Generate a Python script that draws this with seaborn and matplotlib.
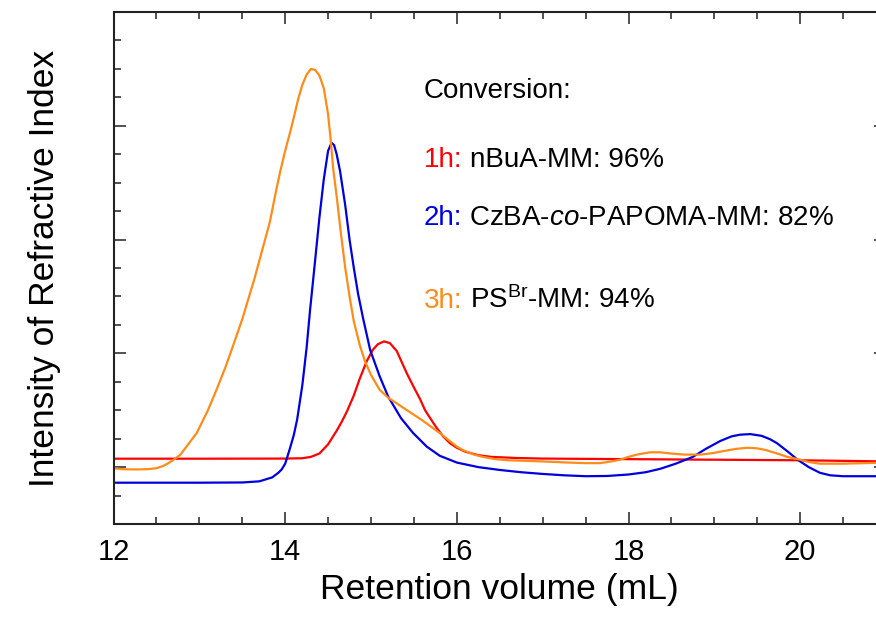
import numpy as np
import pandas as pd
import matplotlib
matplotlib.use("Agg")
import matplotlib.pyplot as plt
from matplotlib.ticker import MultipleLocator, NullFormatter
import seaborn as sns

# ---- data (retention volume in mL, RI intensity a.u.) ----
red_x = [12.0, 13.0, 14.0, 14.2, 14.3, 14.4, 14.5, 14.55, 14.6, 14.66, 14.72, 14.8, 14.87, 14.95,
         15.02, 15.08, 15.15, 15.22, 15.3, 15.36, 15.42, 15.5, 15.57, 15.63, 15.69, 15.76, 15.84,
         15.92, 16.0, 16.1, 16.25, 16.4, 16.7, 17.0, 18.0, 19.0, 20.0, 21.0]
red_y = [0.074, 0.074, 0.075, 0.078, 0.09, 0.12, 0.2, 0.26, 0.32, 0.4, 0.49, 0.63, 0.78, 0.93,
         1.03, 1.08, 1.105, 1.09, 1.02, 0.92, 0.82, 0.7, 0.6, 0.5, 0.43, 0.35, 0.27,
         0.21, 0.17, 0.135, 0.105, 0.09, 0.08, 0.075, 0.07, 0.065, 0.06, 0.05]

blue_x = [12.0, 13.0, 13.5, 13.7, 13.85, 13.92, 13.96, 14.0, 14.05, 14.1, 14.14, 14.2, 14.25, 14.29,
          14.34, 14.4, 14.45, 14.5, 14.54, 14.57, 14.6, 14.64, 14.7, 14.75, 14.8, 14.85, 14.91,
          14.99, 15.1, 15.2, 15.35, 15.49, 15.65, 15.8, 16.0, 16.25, 16.5, 16.75, 17.0, 17.25,
          17.5, 17.75, 18.0, 18.2, 18.37, 18.55, 18.75, 18.9, 19.07, 19.2, 19.3, 19.42, 19.55,
          19.65, 19.73, 19.85, 19.97, 20.1, 20.23, 20.35, 20.5, 21.0]
blue_y = [-0.137, -0.137, -0.135, -0.125, -0.09, -0.05, -0.02, 0.03, 0.15, 0.28, 0.42, 0.72, 1.05, 1.38,
          1.75, 2.2, 2.53, 2.78, 2.85, 2.83, 2.75, 2.6, 2.3, 2.0, 1.75, 1.52, 1.30,
          1.03, 0.8, 0.62, 0.43, 0.30, 0.18, 0.10, 0.04, 0.0, -0.025, -0.045, -0.06, -0.072,
          -0.08, -0.078, -0.065, -0.045, -0.015, 0.03, 0.09, 0.16, 0.23, 0.27, 0.285, 0.29, 0.275,
          0.245, 0.21, 0.14, 0.065, 0.0, -0.05, -0.072, -0.08, -0.08]

orange_x = [12.0, 12.1, 12.2, 12.3, 12.4, 12.5, 12.58, 12.65, 12.72, 12.78, 12.85, 12.97, 13.1, 13.2,
            13.3, 13.39, 13.5, 13.64, 13.73, 13.82, 13.9, 13.94, 14.0, 14.06, 14.1, 14.15, 14.2,
            14.25, 14.3, 14.35, 14.4, 14.45, 14.5, 14.53, 14.56, 14.6, 14.65, 14.7, 14.75, 14.8,
            14.87, 14.93, 15.0, 15.1, 15.2, 15.3, 15.4, 15.5, 15.6, 15.69, 15.8, 15.9, 16.0, 16.07,
            16.2, 16.3, 16.45, 16.6, 17.0, 17.3, 17.5, 17.67, 17.8, 17.9, 18.0, 18.1, 18.25, 18.37,
            18.49, 18.65, 18.84, 19.0, 19.1, 19.25, 19.38, 19.5, 19.6, 19.73, 19.85, 20.0, 20.1,
            20.23, 20.5, 21.0]
orange_y = [-0.01, -0.018, -0.02, -0.02, -0.018, -0.01, 0.01, 0.04, 0.075, 0.11, 0.18, 0.30, 0.5, 0.68,
            0.87, 1.06, 1.3, 1.65, 1.9, 2.15, 2.45, 2.59, 2.78, 2.95, 3.07, 3.23, 3.36,
            3.45, 3.50, 3.49, 3.44, 3.33, 3.10, 2.88, 2.62, 2.38, 2.05, 1.75, 1.50, 1.28,
            1.07, 0.93, 0.81, 0.68, 0.61, 0.56, 0.51, 0.46, 0.41, 0.36, 0.30, 0.24, 0.18, 0.15,
            0.11, 0.09, 0.07, 0.06, 0.05, 0.04, 0.035, 0.035, 0.05, 0.065, 0.09, 0.11, 0.13, 0.13,
            0.12, 0.11, 0.11, 0.125, 0.14, 0.16, 0.17, 0.165, 0.15, 0.12, 0.09, 0.065, 0.045,
            0.03, 0.03, 0.04]

series_names = ["1h", "2h", "3h"]
series_colors = ["#ff0000", "#0000dd", "#ff8c1a"]
legend_rest = ["nBuA-MM: 96%", r"CzBA-$\mathit{co}$-PAPOMA-MM: 82%", r"PS$^{\mathregular{Br}}$-MM: 94%"]
x_ticks = [12, 14, 16, 18, 20]

df = pd.concat([
    pd.DataFrame({"x": red_x, "y": red_y, "s": "1h"}),
    pd.DataFrame({"x": blue_x, "y": blue_y, "s": "2h"}),
    pd.DataFrame({"x": orange_x, "y": orange_y, "s": "3h"}),
])

sns.set_style("ticks")
plt.rcParams["font.family"] = ["Liberation Sans", "DejaVu Sans"]
plt.rcParams["mathtext.fontset"] = "custom"
plt.rcParams["mathtext.rm"] = "Liberation Sans"
plt.rcParams["mathtext.it"] = "Liberation Sans:italic"
plt.rcParams["mathtext.bf"] = "Liberation Sans:bold"
plt.rcParams["text.color"] = "black"
plt.rcParams["axes.labelcolor"] = "black"
plt.rcParams["xtick.color"] = "black"
plt.rcParams["ytick.color"] = "black"

W, H = 876, 622
fig = plt.figure(figsize=(W / 100, H / 100), dpi=100)
ax = fig.add_axes([113.5 / W, (H - 524) / H, (886 - 113.5) / W, (524 - 12) / H])

sns.lineplot(data=df, x="x", y="y", hue="s", hue_order=series_names,
             palette=series_colors, sort=False, estimator=None, lw=1.6,
             legend=False, ax=ax)
for ln in ax.get_lines():
    ln.set_solid_joinstyle("round")
    ln.set_antialiased(True)

ax.set_xlim(12, 21)
ax.set_ylim(-0.5, 4.0)
ax.set_xticks(x_ticks)
ax.xaxis.set_minor_locator(MultipleLocator(0.5))
ax.yaxis.set_major_locator(MultipleLocator(1))
ax.yaxis.set_minor_locator(MultipleLocator(0.25))
ax.yaxis.set_major_formatter(NullFormatter())
ax.tick_params(which="both", direction="in", top=True, right=True, width=1.1, color="#222222")
ax.tick_params(which="major", length=8.5)
ax.tick_params(which="minor", length=5)
ax.tick_params(axis="x", labelsize=21, pad=10, labelcolor="black")
for sp in ax.spines.values():
    sp.set_linewidth(1.5)
    sp.set_color("#222222")

ax.set_xlabel("Retention volume (mL)", fontsize=25.5, labelpad=5, color="black")
ax.set_ylabel("Intensity of Refractive Index", fontsize=25.5, labelpad=34, color="black")

# annotation block
fs = 20
x0 = 424
fig.text(x0 / W, 1 - 98 / H, "Conversion:", fontsize=fs, va="baseline", ha="left", color="black")
baselines = [167, 225, 308]
fig.canvas.draw()
r = fig.canvas.get_renderer()
for name, col, rest, b in zip(series_names, series_colors, legend_rest, baselines):
    t = fig.text(x0 / W, 1 - b / H, name + ":", fontsize=fs, va="baseline", ha="left", color=col)
    ext = t.get_window_extent(renderer=r)
    fig.text((ext.x1 + 7) / W, 1 - b / H, rest, fontsize=fs, va="baseline", ha="left", color="black")

fig.savefig("out.png", dpi=100)
